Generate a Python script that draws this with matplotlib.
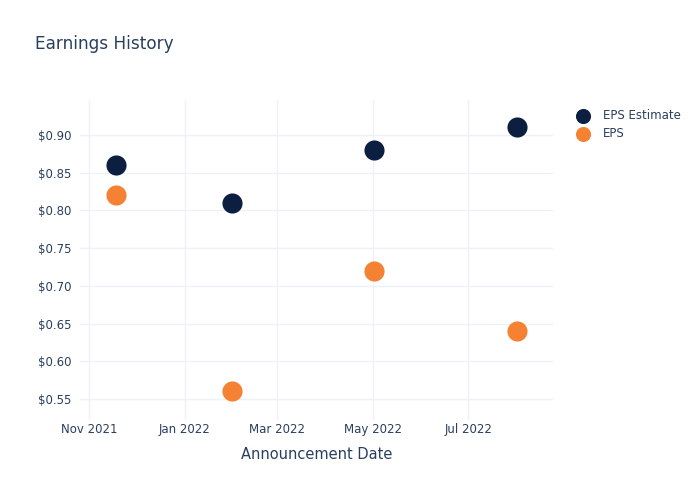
import matplotlib
matplotlib.use("Agg")
import matplotlib.pyplot as plt
import matplotlib.dates as mdates
import numpy as np

dates = np.array(["2021-11-18", "2022-01-31", "2022-05-02", "2022-08-01"], dtype="datetime64[D]")
eps_estimate = [0.86, 0.81, 0.88, 0.91]
eps_actual = [0.82, 0.56, 0.72, 0.64]

text_color = "#2a3f5f"
grid_color = "#eef1f8"

fig = plt.figure(figsize=(7, 5), dpi=100)
ax = fig.add_axes([80 / 700, 80 / 500, 473 / 700, 320 / 500])

ax.scatter(dates, eps_estimate, s=210, color="#0c1f40", label="EPS Estimate", zorder=3, linewidths=0)
ax.scatter(dates, eps_actual, s=210, color="#f58233", label="EPS", zorder=3, linewidths=0)

ax.set_xlim(np.datetime64("2021-10-26"), np.datetime64("2022-08-24"))
ax.set_ylim(0.5221, 0.9464)
ax.xaxis.set_major_locator(mdates.MonthLocator(bymonth=[1, 3, 5, 7, 9, 11]))
ax.xaxis.set_major_formatter(mdates.DateFormatter("%b %Y"))
ax.set_yticks(np.arange(0.55, 0.91, 0.05))
ax.yaxis.set_major_formatter(plt.FuncFormatter(lambda v, p: f"${v:.2f}"))

ax.grid(True, color=grid_color, linewidth=1)
ax.set_axisbelow(True)
for s in ax.spines.values():
    s.set_visible(False)
ax.tick_params(length=0, labelsize=8.5, labelcolor=text_color)
ax.tick_params(axis="x", pad=2)
ax.tick_params(axis="y", pad=6)
ax.set_xlabel("Announcement Date", fontsize=10.5, color=text_color, labelpad=8)

fig.text(35 / 700, 1 - 44 / 500, "Earnings History", fontsize=12.2, color=text_color, va="center")

ax.legend(loc="upper left", bbox_to_anchor=(566 / 700, 1 - 104 / 500), bbox_transform=fig.transFigure,
          frameon=False, fontsize=8.5, labelcolor=text_color, markerscale=0.75,
          handletextpad=0.7, labelspacing=0.45, borderaxespad=0)

fig.savefig("out.png", dpi=100)
